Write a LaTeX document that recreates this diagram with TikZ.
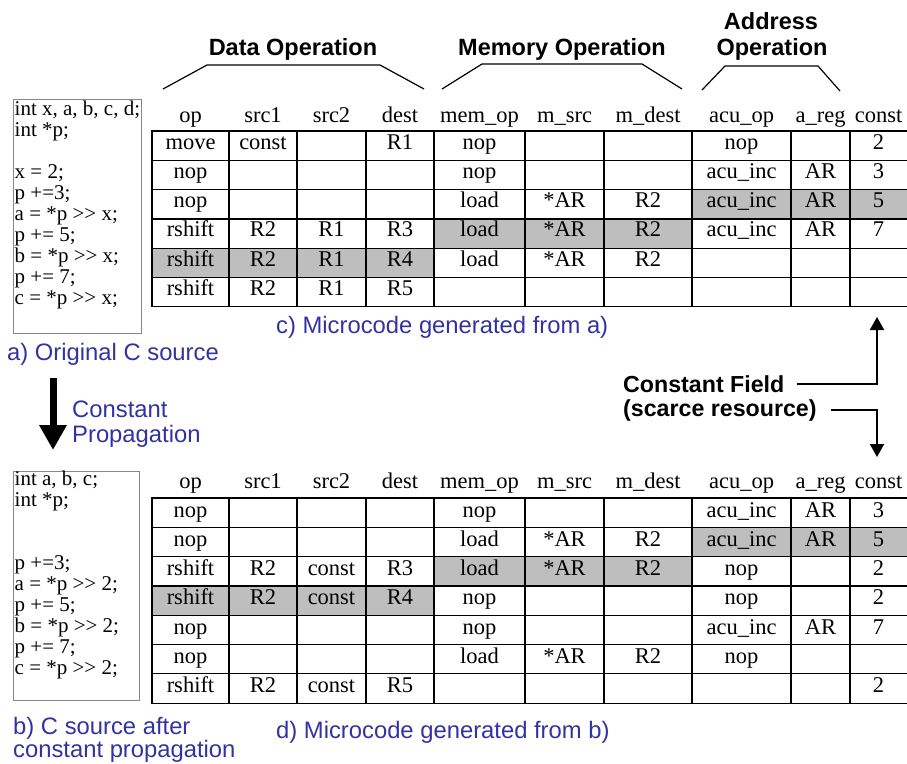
\documentclass[tikz,border=0pt]{standalone}
\usepackage{fontspec}
\setmainfont{Liberation Serif}
\newfontfamily\hv{Liberation Sans}
\usetikzlibrary{arrows.meta}
\definecolor{lblblue}{RGB}{50,50,160}
\definecolor{shadegray}{RGB}{190,190,190}
\definecolor{boxgray}{RGB}{135,135,135}
\newcommand\shr{\mbox{>}\mbox{>}}
\newcommand\tabrow[4]{%
  \foreach \t [count=\c] in {#4} {
    \pgfmathsetmacro\cx{{190.5,263,331.5,400,479.5,564.5,648,741.5,820.5,878.5}[\c-1]}
    \node[cell] (#1-#2-\c) at (\cx,#3) {\t};
  }}
\newcommand\tabgrid[2]{% #1 top, #2 rows
  \foreach \k in {0,...,#2} \draw[gridline] (151.4,{#1+29.3*\k}) -- (907,{#1+29.3*\k});
  \foreach \x in {152,229,297,366,434,525,604,692,791,850}
    \draw[gridline] (\x,#1) -- (\x,{#1+29.3*#2});}
\newcommand\shadecells[4]{% top, row index (1-based), x1, x2
  \fill[shadegray] (#3,{#1+29.3*(#2-1)}) rectangle (#4,{#1+29.3*#2});}
\begin{document}
\begin{tikzpicture}[x=1pt,y=-1pt,
  cell/.style={anchor=base, inner sep=0pt, font=\fontsize{22.5}{24}\selectfont},
  codeline/.style={anchor=base west, inner sep=0pt, font=\fontsize{21}{21}\selectfont},
  grouphd/.style={anchor=base, inner sep=0pt, font=\hv\bfseries\fontsize{23.5}{27}\selectfont},
  caption/.style={anchor=base west, inner sep=0pt, text=lblblue, font=\hv\fontsize{23.8}{25}\selectfont},
  note/.style={anchor=base west, inner sep=0pt, font=\hv\bfseries\fontsize{23.2}{25}\selectfont},
  gridline/.style={line width=1.2pt},
  bracket/.style={line width=1.2pt},
  codebox/.style={draw=boxgray, line width=1pt, inner sep=0pt, anchor=north west},
  conn/.style={line width=2pt, -{Triangle[width=14pt,length=13pt]}},
  bigarrow/.style={line width=7pt, -{Triangle[width=26pt,length=25pt]}},
]
\useasboundingbox (0,0) rectangle (907,763);

% ---------- group headings ----------
\node[grouphd] (gData) at (293,55) {Data Operation};
\node[grouphd] (gMem) at (562,55) {Memory Operation};
\node[grouphd] (gAddr1) at (771,29) {Address};
\node[grouphd] (gAddr2) at (772,55) {Operation};
\draw[bracket] (163,89) -- (207,65) -- (380,65) -- (424,89);
\draw[bracket] (442,89) -- (482,64) -- (642,64) -- (682,89);
\draw[bracket] (702,90) -- (725,66) -- (818,66) -- (840,91);

% ---------- source a ----------
\node[codebox, minimum width=128pt, minimum height=234pt] (srcA) at (13,99) {};
\foreach \s [count=\i] in {{int x, a, b, c, d;},{int *p;},{},{x = 2;},{p +=3;},{a = *p \shr{} x;},{p += 5;},{b = *p \shr{} x;},{p += 7;},{c = *p \shr{} x;}}
  \node[codeline] (la-\i) at (14.5,{94+21*\i}) {\s};

% ---------- table c ----------
\shadecells{131}{4}{434}{692}
\shadecells{131}{5}{152}{434}
\shadecells{131}{3}{692}{907}
\tabgrid{131}{6}
\tabrow{hc}{0}{122}{op,src1,src2,dest,mem\_op,m\_src,m\_dest,acu\_op,a\_reg,const}
\tabrow{c}{1}{149}{move,const,,R1,nop,,,nop,,2}
\tabrow{c}{2}{178.3}{nop,,,,nop,,,acu\_inc,AR,3}
\tabrow{c}{3}{207.6}{nop,,,,load,*AR,R2,acu\_inc,AR,5}
\tabrow{c}{4}{236.9}{rshift,R2,R1,R3,load,*AR,R2,acu\_inc,AR,7}
\tabrow{c}{5}{266.2}{rshift,R2,R1,R4,load,*AR,R2,,,}
\tabrow{c}{6}{295.5}{rshift,R2,R1,R5,,,,,,}

\node[caption] (capC) at (276,333) {c) Microcode generated from a)};
\node[caption] (capA) at (7,360) {a) Original C source};

% ---------- constant propagation arrow ----------
\coordinate (cpTop) at (53,378);
\coordinate (cpTip) at (53,450);
\draw[bigarrow] (cpTop) -- (cpTip);
\node[caption] (cpL1) at (72,417) {Constant};
\node[caption] (cpL2) at (72,442) {Propagation};

% ---------- constant field notes ----------
\node[note] (cf) at (623,392) {Constant Field};
\node[note] (sr) at (623,416) {(scarce resource)};
\coordinate (upTip) at (877,317);
\coordinate (downTip) at (877,457);
\draw[conn] ([xshift=12pt]cf.east) -| (upTip);
\draw[conn] ([xshift=14pt]sr.east) -| (downTip);

% ---------- source b ----------
\node[codebox, minimum width=126pt, minimum height=229pt] (srcB) at (13,471) {};
\foreach \s [count=\i] in {{int a, b, c;},{int *p;},{},{},{p +=3;},{a = *p \shr{} 2;},{p += 5;},{b = *p \shr{} 2;},{p += 7;},{c = *p \shr{} 2;}}
  \node[codeline] (lb-\i) at (14.5,{464+21*\i}) {\s};

% ---------- table d ----------
\shadecells{498}{2}{692}{907}
\shadecells{498}{3}{434}{692}
\shadecells{498}{4}{152}{434}
\tabgrid{498}{7}
\tabrow{hd}{0}{488}{op,src1,src2,dest,mem\_op,m\_src,m\_dest,acu\_op,a\_reg,const}
\tabrow{d}{1}{517}{nop,,,,nop,,,acu\_inc,AR,3}
\tabrow{d}{2}{546.3}{nop,,,,load,*AR,R2,acu\_inc,AR,5}
\tabrow{d}{3}{575.6}{rshift,R2,const,R3,load,*AR,R2,nop,,2}
\tabrow{d}{4}{604.9}{rshift,R2,const,R4,nop,,,nop,,2}
\tabrow{d}{5}{634.2}{nop,,,,nop,,,acu\_inc,AR,7}
\tabrow{d}{6}{663.5}{nop,,,,load,*AR,R2,nop,,}
\tabrow{d}{7}{692.8}{rshift,R2,const,R5,,,,,,2}

\node[caption] (capB1) at (13,734) {b) C source after};
\node[caption] (capB2) at (13,757.5) {constant propagation};
\node[caption] (capD) at (276,738) {d) Microcode generated from b)};
\end{tikzpicture}
\end{document}
